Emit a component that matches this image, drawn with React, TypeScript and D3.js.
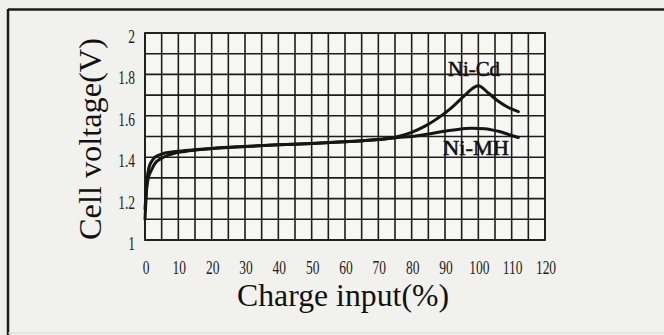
import React from "react";
import * as d3 from "d3";

const xTicks = [0, 10, 20, 30, 40, 50, 60, 70, 80, 90, 100, 110, 120];
const yTicks = [1, 1.2, 1.4, 1.6, 1.8, 2];

const niCdX = [0, 0.3, 0.7, 1.2, 2, 3, 5, 8, 12, 20, 30, 40, 50, 60, 70, 76, 80, 84, 88, 92, 96, 99, 100, 103, 106, 109, 112];
const niCdV = [1.1, 1.2, 1.3, 1.35, 1.38, 1.4, 1.415, 1.425, 1.432, 1.442, 1.452, 1.46, 1.466, 1.475, 1.485, 1.5, 1.52, 1.55, 1.59, 1.64, 1.7, 1.74, 1.745, 1.71, 1.67, 1.64, 1.62];

const niMhX = [0, 0.5, 1, 2, 3, 5, 8, 12, 20, 30, 40, 50, 60, 70, 76, 80, 86, 92, 98, 102, 106, 110, 112];
const niMhV = [1.15, 1.25, 1.3, 1.34, 1.37, 1.395, 1.415, 1.428, 1.442, 1.452, 1.46, 1.466, 1.475, 1.485, 1.495, 1.5, 1.515, 1.53, 1.54, 1.538, 1.525, 1.505, 1.495];

const seriesLabels = ["Ni-Cd", "Ni-MH"];

export default function App() {
  const left = 145, right = 545, top = 33, bottom = 240;
  const x = d3.scaleLinear().domain([0, 120]).range([left, right]);
  const y = d3.scaleLinear().domain([1, 2]).range([bottom, top]);
  const line = d3
    .line<[number, number]>()
    .x((d) => x(d[0]))
    .y((d) => y(d[1]))
    .curve(d3.curveMonotoneX);
  const cd = niCdX.map((v, i) => [v, niCdV[i]] as [number, number]);
  const mh = niMhX.map((v, i) => [v, niMhV[i]] as [number, number]);
  const vGrid = d3.range(0, 120.001, 5);
  const hGrid = d3.range(1, 2.0001, 0.1);
  const ink = "#1c1c1c";
  const font = "'Liberation Serif', 'Times New Roman', serif";
  return (
    <svg
      width={664}
      height={335}
      style={{ position: "absolute", left: 0, top: 0, display: "block" }}
      fontFamily={font}
    >
      <rect x={0} y={0} width={664} height={335} fill="#efefeb" />
      <rect x={8} y={10} width={660} height={322} fill="#f1f1ee" />
      <line x1={8} y1={9.5} x2={664} y2={9.5} stroke={ink} strokeWidth={2.5} />
      <line x1={8} y1={9} x2={8} y2={335} stroke={ink} strokeWidth={2.5} />
      <line x1={8} y1={333} x2={664} y2={333} stroke="#d8d8d4" strokeWidth={1} />
      <rect x={left} y={top} width={right - left} height={bottom - top} fill="#f6f6f3" />
      {vGrid.map((g) => (
        <line key={"v" + g} x1={x(g)} x2={x(g)} y1={top} y2={bottom} stroke={ink} strokeWidth={1.6} />
      ))}
      {hGrid.map((g) => (
        <line key={"h" + g} x1={left} x2={right} y1={y(g)} y2={y(g)} stroke={ink} strokeWidth={1.6} />
      ))}
      <rect x={left} y={top} width={right - left} height={bottom - top} fill="none" stroke={ink} strokeWidth={1.8} />
      <path d={line(mh) || ""} fill="none" stroke="#151515" strokeWidth={3} strokeLinejoin="round" strokeLinecap="round" />
      <path d={line(cd) || ""} fill="none" stroke="#151515" strokeWidth={3} strokeLinejoin="round" strokeLinecap="round" />
      {yTicks.map((t) => (
        <text
          key={"yt" + t}
          transform={`translate(135,${y(t) + 10}) scale(0.75,1)`}
          textAnchor="end"
          fontSize={18}
          fill="#222"
        >
          {String(t)}
        </text>
      ))}
      {xTicks.map((t) => (
        <text
          key={"xt" + t}
          transform={`translate(${x(t) + 1},274) scale(0.75,1)`}
          textAnchor="middle"
          fontSize={18}
          fill="#222"
        >
          {String(t)}
        </text>
      ))}
      <text x={448} y={76} fontSize={20} fill="#111" stroke="#111" strokeWidth={0.5} textLength={52} lengthAdjust="spacingAndGlyphs">
        {seriesLabels[0]}
      </text>
      <text x={443} y={155} fontSize={20} fill="#111" stroke="#111" strokeWidth={0.5} textLength={66} lengthAdjust="spacingAndGlyphs">
        {seriesLabels[1]}
      </text>
      <text x={237} y={306} fontSize={32} fill="#111" textLength={212} lengthAdjust="spacingAndGlyphs">
        Charge input(%)
      </text>
      <text
        transform="translate(101,240) rotate(-90)"
        x={0}
        y={0}
        fontSize={31}
        fill="#111"
        textLength={202}
        lengthAdjust="spacingAndGlyphs"
      >
        Cell voltage(V)
      </text>
    </svg>
  );
}
